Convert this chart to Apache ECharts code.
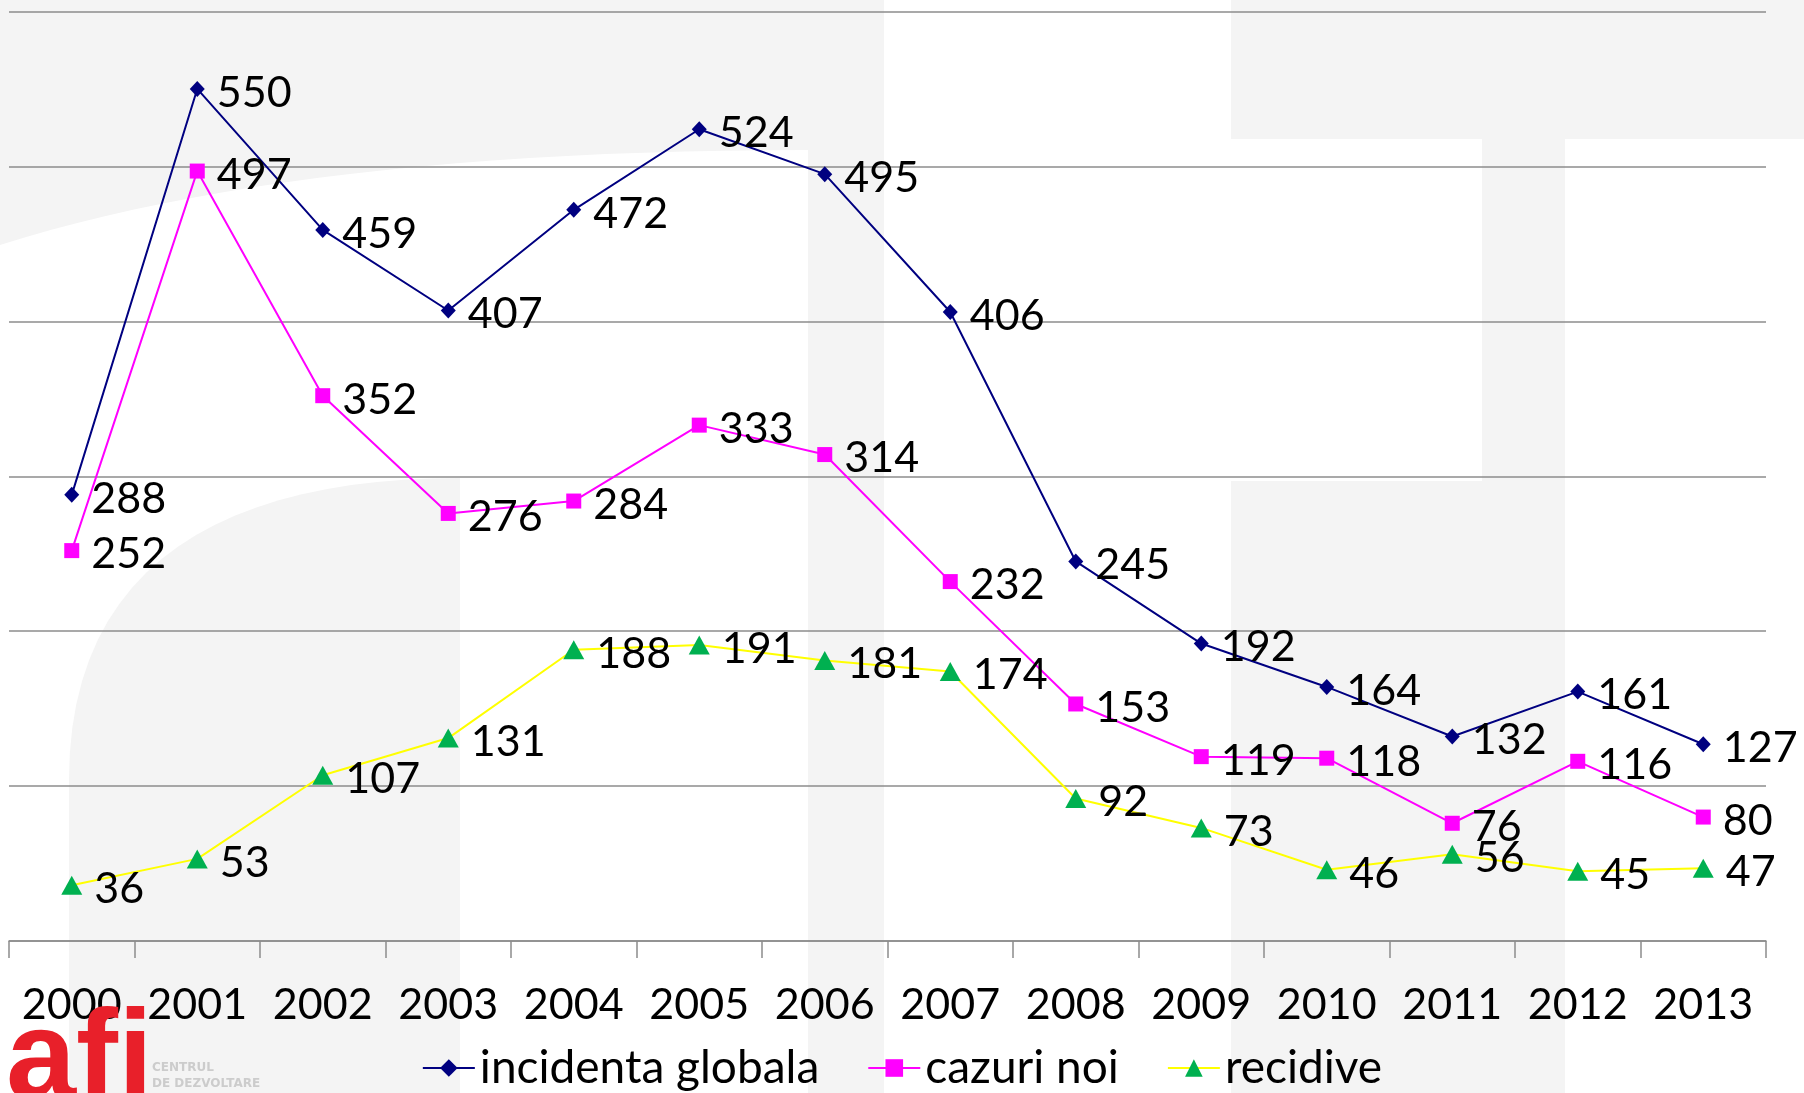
<!DOCTYPE html>
<html>
<head>
<meta charset="utf-8">
<script src="https://cdn.jsdelivr.net/npm/echarts@6/dist/echarts.min.js"></script>
<style>
html,body{margin:0;padding:0;background:#fff;}
#chart{width:1804px;height:1093px;}
</style>
</head>
<body>
<div id="chart"></div>
<script>
var years = ['2000','2001','2002','2003','2004','2005','2006','2007','2008','2009','2010','2011','2012','2013'];
var incidentaGlobala = [288, 550, 459, 407, 472, 524, 495, 406, 245, 192, 164, 132, 161, 127];
var cazuriNoi = [252, 497, 352, 276, 284, 333, 314, 232, 153, 119, 118, 76, 116, 80];
var recidive = [36, 53, 107, 131, 188, 191, 181, 174, 92, 73, 46, 56, 45, 47];
var seriesNames = ['incidenta globala', 'cazuri noi', 'recidive'];

var FONT = 'Lato, "Open Sans", sans-serif';
var WM = '#f4f4f4';

// watermark outline helpers (decorative background only)
function quad(p0, p1, p2, n) {
  var pts = [];
  for (var i = 0; i <= n; i++) {
    var t = i / n, u = 1 - t;
    pts.push([u*u*p0[0] + 2*u*t*p1[0] + t*t*p2[0], u*u*p0[1] + 2*u*t*p1[1] + t*t*p2[1]]);
  }
  return pts;
}
function cubic(p0, p1, p2, p3, n) {
  var pts = [];
  for (var i = 0; i <= n; i++) {
    var t = i / n, u = 1 - t;
    pts.push([
      u*u*u*p0[0] + 3*u*u*t*p1[0] + 3*u*t*t*p2[0] + t*t*t*p3[0],
      u*u*u*p0[1] + 3*u*u*t*p1[1] + 3*u*t*t*p2[1] + t*t*t*p3[1]
    ]);
  }
  return pts;
}
var topLeftShape = [[0,0],[884,0],[884,1093],[808,1093]].concat(quad([808,150],[300,150],[0,245],24));
var bowlShape = cubic([460,478],[230,478],[69,560],[69,780],24).concat([[69,1093],[460,1093]]);

var chart = echarts.init(document.getElementById('chart'), null, {renderer: 'canvas'});

function lbl() {
  return {
    show: true,
    position: 'right',
    distance: 12,
    offset: [0, 4],
    color: '#000',
    fontFamily: FONT,
    fontSize: 43
  };
}

var option = {
  backgroundColor: '#ffffff',
  animation: false,
  graphic: [
    {type: 'polygon', z: -10, silent: true, shape: {points: topLeftShape}, style: {fill: WM}},
    {type: 'polygon', z: -10, silent: true, shape: {points: bowlShape}, style: {fill: WM}},
    {type: 'rect', z: -10, silent: true, shape: {x: 1231, y: 0, width: 573, height: 139}, style: {fill: WM}},
    {type: 'rect', z: -10, silent: true, shape: {x: 1482, y: 139, width: 83, height: 342}, style: {fill: WM}},
    {type: 'rect', z: -10, silent: true, shape: {x: 1231, y: 481, width: 334, height: 612}, style: {fill: WM}},
    {type: 'text', z: 5, silent: true, x: 6, y: 1000, style: {text: 'afi', fill: '#e8202a', fontSize: 126, fontWeight: 'bold', fontFamily: '"Liberation Sans", sans-serif', verticalAlign: 'top'}},
    {type: 'text', z: 5, silent: true, x: 152, y: 1062, style: {text: 'CENTRUL', fill: '#cccccc', fontSize: 12, fontWeight: 'bold', fontFamily: '"DejaVu Sans", sans-serif', verticalAlign: 'top'}},
    {type: 'text', z: 5, silent: true, x: 152, y: 1078, style: {text: 'DE DEZVOLTARE', fill: '#cccccc', fontSize: 12, fontWeight: 'bold', fontFamily: '"DejaVu Sans", sans-serif', verticalAlign: 'top'}}
  ],
  grid: {left: 9, right: 38, top: 11.5, bottom: 152, containLabel: false},
  legend: {
    left: 'center',
    top: 1040,
    itemWidth: 52,
    itemHeight: 22,
    itemGap: 48,
    textStyle: {fontFamily: FONT, fontSize: 46, color: '#000'},
    data: seriesNames
  },
  xAxis: {
    type: 'category',
    data: years,
    boundaryGap: true,
    axisLine: {show: true, lineStyle: {color: '#8c8c8c', width: 1.5}},
    axisTick: {show: true, interval: 0, length: 17, lineStyle: {color: '#8c8c8c', width: 1.5}},
    axisLabel: {interval: 0, color: '#000', fontFamily: FONT, fontSize: 43, margin: 43}
  },
  yAxis: {
    type: 'value',
    min: 0,
    max: 600,
    interval: 100,
    axisLine: {show: false},
    axisTick: {show: false},
    axisLabel: {show: false},
    splitLine: {show: true, lineStyle: {color: '#8c8c8c', width: 1.5}}
  },
  series: [
    {
      name: seriesNames[0],
      type: 'line',
      data: incidentaGlobala,
      symbol: 'diamond',
      symbolSize: [15, 16],
      lineStyle: {color: '#000080', width: 2},
      itemStyle: {color: '#000080'},
      label: lbl()
    },
    {
      name: seriesNames[1],
      type: 'line',
      data: cazuriNoi,
      symbol: 'rect',
      symbolSize: 15,
      lineStyle: {color: '#ff00ff', width: 2},
      itemStyle: {color: '#ff00ff'},
      label: lbl()
    },
    {
      name: seriesNames[2],
      type: 'line',
      data: recidive,
      symbol: 'triangle',
      symbolSize: [21, 19],
      lineStyle: {color: '#ffff00', width: 2},
      itemStyle: {color: '#00b050'},
      label: lbl()
    }
  ]
};
chart.setOption(option);
</script>
</body>
</html>
